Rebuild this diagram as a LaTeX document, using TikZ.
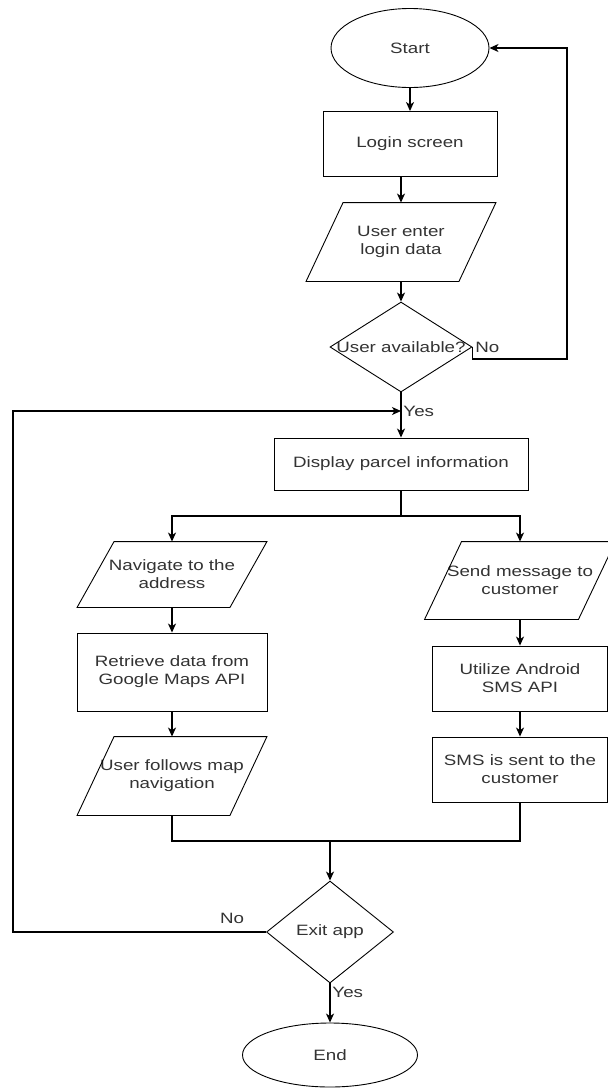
\documentclass[tikz,border=0pt]{standalone}
\usepackage{fontspec}
\setmainfont{Liberation Sans}[FakeStretch=1.25]
\usetikzlibrary{shapes.geometric,arrows.meta}

\tikzset{
  flow/.style={font=\fontsize{15}{18}\selectfont, text=black!80, align=center, inner sep=0pt},
  wh/.style 2 args={minimum width=#1, minimum height=#2},
  term/.style={flow, ellipse, draw},
  proc/.style={flow, rectangle, draw},
  io/.style={flow, rectangle},
  decide/.style={flow, diamond, draw},
  lbl/.style={flow, anchor=west},
}

\begin{document}
\begin{tikzpicture}[x=1pt, y=-1pt, line width=0.9pt,
    >={Stealth[length=9pt,width=8pt,inset=2.5pt]}]
  \fill[white] (0,0) rectangle (608,1088);
  \useasboundingbox (0,0) rectangle (608,1088);

  % login part
  \node[term, wh={158pt}{79pt}] (start) at (410,48) {Start};
  \node[proc, wh={174pt}{65pt}] (login) at (410,144) {Login screen};
  \node[io, wh={189pt}{78pt}] (enter) at (401,242) {User enter\\login data};
  \node[decide, wh={142pt}{90pt}] (avail) at (401,347) {\makebox[0pt]{User available?}};
  \node[proc, wh={254pt}{52pt}] (display) at (401,464) {Display parcel information};

  % left branch
  \node[io, wh={189pt}{65pt}] (navig) at (172,574.5) {Navigate to the\\address};
  \node[proc, wh={190pt}{78pt}] (retr) at (172,672) {Retrieve data from\\Google Maps API};
  \node[io, wh={189pt}{78pt}] (follow) at (172,776) {\makebox[0pt]{User follows map}\\navigation};

  % right branch
  \node[io, wh={190pt}{77pt}] (sendm) at (520,580.5) {\makebox[0pt]{Send message to}\\customer};
  \node[proc, wh={175pt}{65pt}] (util) at (520,678.5) {Utilize Android\\SMS API};
  \node[proc, wh={175pt}{65pt}] (smssent) at (520,769.5) {SMS is sent to the\\customer};

  % end part
  \node[decide, wh={127pt}{102pt}] (exit) at (330,932) {Exit app};
  \node[term, wh={175pt}{64pt}] (end) at (330,1055) {End};

  \foreach \n in {enter,navig,follow,sendm}
    \draw ([xshift=37pt]\n.north west) -- (\n.north east)
      -- ([xshift=-37pt]\n.south east) -- (\n.south west) -- cycle;

  \node[lbl] (noA) at (475,347) {No};
  \node[lbl] (yesA) at (403,411) {Yes};
  \node[flow] (noB) at (232,918) {No};
  \node[lbl] (yesB) at (332,992) {Yes};

  \coordinate (retR) at (567,359);
  \coordinate (loopin) at (401,411);
  \coordinate (loopL) at (13,411);
  \coordinate (split) at (401,516);
  \coordinate (merge) at (330,841);

  \path[->, line width=1.1pt]
  (start) edge (login)
  (enter) edge (avail)
  (avail) edge (display)
  (navig) edge (retr)
  (retr) edge (follow)
  (sendm) edge (util)
  (util) edge (smssent)
  (merge) edge (exit)
  (exit) edge (end)
          ;
  \draw[->, line width=1.1pt] (login.south -| enter.north) -- (enter.north);
  \draw[->, line width=1.1pt] (avail.east) |- (retR) |- (start.east);
  \draw[->, line width=1.1pt] (display.south) -- (split) -| (navig.north);
  \draw[->, line width=1.1pt] (split) -| (sendm.north);
  \draw[line width=1.1pt] (follow.south) |- (merge) -| (smssent.south);
  \draw[->, line width=1.1pt] (exit.west) -| (loopL) -- (loopin);
\end{tikzpicture}
\end{document}
